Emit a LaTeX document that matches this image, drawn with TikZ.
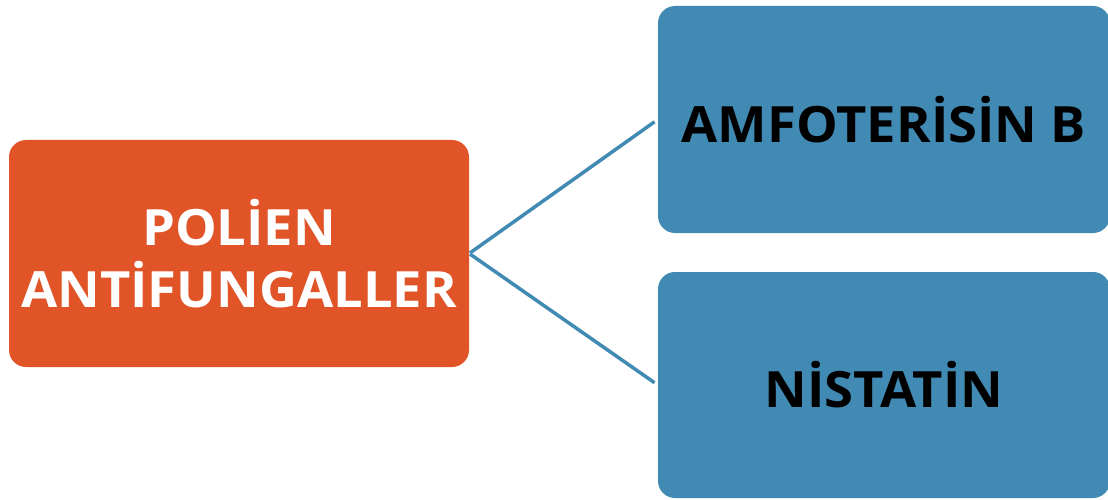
\documentclass[tikz,border=0pt]{standalone}
\usepackage{fontspec}
\setmainfont[FakeStretch=1.05]{Open Sans}
\definecolor{orangebox}{HTML}{E05427}
\definecolor{bluebox}{HTML}{418AB3}
\begin{document}
\begin{tikzpicture}[x=1pt,y=1pt,
  box/.style={rounded corners=17pt, inner sep=0pt, align=center, font=\bfseries\fontsize{50}{62}\selectfont},
  link/.style={draw=bluebox, line width=3.5pt}]
\useasboundingbox (0,0) rectangle (1108,499);
\node[box, fill=orangebox, text=white, minimum width=460pt, minimum height=227pt] (pol) at (239,245.5) {POLİEN\\ANTİFUNGALLER};
\node[box, fill=bluebox, text=black, minimum width=452pt, minimum height=227pt] (amf) at (884,379.5) {AMFOTERİSİN B};
\node[box, fill=bluebox, text=black, minimum width=452pt, minimum height=226pt] (nis) at (884,114) {NİSTATİN};
\draw[link, shorten <=1pt, shorten >=4pt] (pol.east) -- (amf.west);
\draw[link, shorten <=1pt, shorten >=4pt] (pol.east) -- (nis.west);
\end{tikzpicture}
\end{document}
